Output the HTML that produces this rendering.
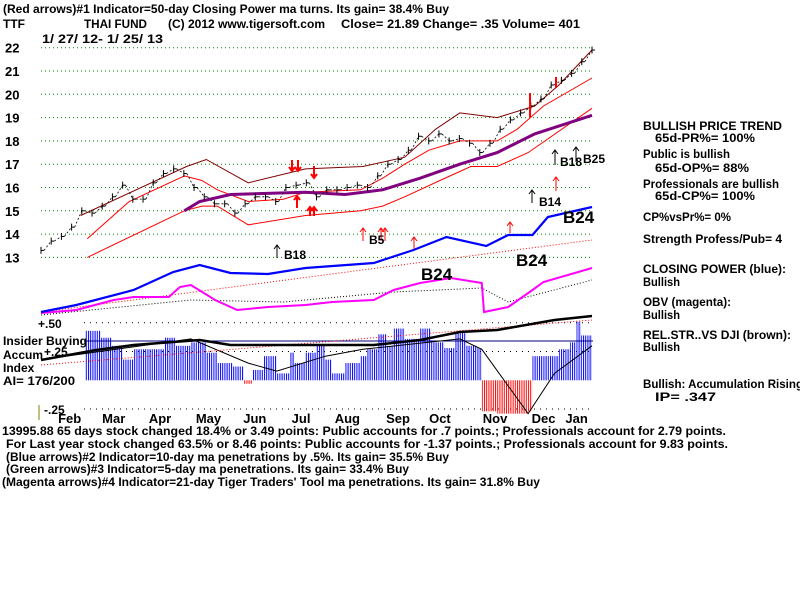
<!DOCTYPE html>
<html><head><meta charset="utf-8"><style>
html,body{margin:0;padding:0;background:#fff}
svg{display:block;font-family:"Liberation Sans",Arial,sans-serif}
text{font-weight:bold}
</style></head><body>
<svg id="c" width="800" height="600" viewBox="0 0 800 600">
<defs>
<pattern id="pb" width="2.2" height="4" patternUnits="userSpaceOnUse"><rect width="1" height="4" fill="#0000ff"/></pattern>
<pattern id="pr" width="2.2" height="4" patternUnits="userSpaceOnUse"><rect width="1" height="4" fill="#ff0000"/></pattern>
</defs>
<g font-size="12" fill="#000">
<text x="3" y="13" textLength="446" lengthAdjust="spacingAndGlyphs">(Red arrows)#1 Indicator=50-day Closing Power ma turns. Its gain= 38.4% Buy</text>
<text x="3" y="28">TTF</text>
<text x="84" y="28" textLength="63" lengthAdjust="spacingAndGlyphs">THAI FUND</text>
<text x="168" y="28" textLength="157" lengthAdjust="spacingAndGlyphs">(C) 2012 www.tigersoft.com</text>
<text x="341" y="28" textLength="239" lengthAdjust="spacingAndGlyphs">Close=  21.89  Change= .35 Volume= 401</text>
<text x="42" y="43" textLength="121" lengthAdjust="spacingAndGlyphs">1/ 27/ 12- 1/ 25/ 13</text>
</g>
<g id="grid"></g>
<g id="marks"></g>
<g font-size="12" fill="#000">
<text x="643" y="130" textLength="139" lengthAdjust="spacingAndGlyphs">BULLISH PRICE TREND</text>
<text x="655" y="142" textLength="100" lengthAdjust="spacingAndGlyphs">65d-PR%= 100%</text>
<text x="643" y="158" textLength="87" lengthAdjust="spacingAndGlyphs">Public is bullish</text>
<text x="655" y="172" textLength="94" lengthAdjust="spacingAndGlyphs">65d-OP%= 88%</text>
<text x="643" y="188" textLength="136" lengthAdjust="spacingAndGlyphs">Professionals are bullish</text>
<text x="655" y="200" textLength="100" lengthAdjust="spacingAndGlyphs">65d-CP%= 100%</text>
<text x="643" y="221" textLength="88" lengthAdjust="spacingAndGlyphs">CP%vsPr%=  0%</text>
<text x="643" y="243" textLength="139" lengthAdjust="spacingAndGlyphs">Strength Profess/Pub= 4</text>
<text x="643" y="273" textLength="143" lengthAdjust="spacingAndGlyphs">CLOSING POWER (blue):</text>
<text x="643" y="286" textLength="37" lengthAdjust="spacingAndGlyphs">Bullish</text>
<text x="643" y="306" textLength="88" lengthAdjust="spacingAndGlyphs">OBV (magenta):</text>
<text x="643" y="319" textLength="37" lengthAdjust="spacingAndGlyphs">Bullish</text>
<text x="643" y="339" textLength="148" lengthAdjust="spacingAndGlyphs">REL.STR..VS DJI (brown):</text>
<text x="643" y="351" textLength="37" lengthAdjust="spacingAndGlyphs">Bullish</text>
<text x="643" y="388" textLength="160" lengthAdjust="spacingAndGlyphs">Bullish: Accumulation Rising</text>
<text x="655" y="401" textLength="61" lengthAdjust="spacingAndGlyphs">IP=  .347</text>
</g>
<g font-size="12" fill="#000">
<text x="3" y="345" textLength="84" lengthAdjust="spacingAndGlyphs">Insider Buying</text>
<text x="3" y="359">Accum</text>
<text x="3" y="372">Index</text>
<text x="3" y="385" textLength="72" lengthAdjust="spacingAndGlyphs">AI= 176/200</text>
<text x="38" y="328">+.50</text>
<text x="44" y="356">+.25</text>
<text x="44" y="414">-.25</text>
<line x1="39" y1="405" x2="39" y2="420" stroke="#808000"/>
</g>
<g font-size="12" fill="#000">
<text x="2" y="435" textLength="724" lengthAdjust="spacingAndGlyphs">13995.88 65 days stock changed  18.4% or  3.49 points:  Public accounts for  .7 points.;  Professionals account for  2.79 points.</text>
<text x="6" y="448" textLength="722" lengthAdjust="spacingAndGlyphs">For Last year stock changed  63.5% or  8.46 points:  Public accounts for -1.37 points.;  Professionals account for  9.83 points.</text>
<text x="6" y="461" textLength="443" lengthAdjust="spacingAndGlyphs">(Blue arrows)#2 Indicator=10-day ma penetrations by .5%. Its gain= 35.5% Buy</text>
<text x="6" y="473" textLength="403" lengthAdjust="spacingAndGlyphs">(Green arrows)#3 Indicator=5-day ma penetrations. Its gain= 33.4% Buy</text>
<text x="2" y="486" textLength="538" lengthAdjust="spacingAndGlyphs">(Magenta arrows)#4 Indicator=21-day Tiger Traders' Tool ma penetrations. Its gain= 31.8% Buy</text>
</g>
</svg>
<script>
const priceTicks=[22,21,20,19,18,17,16,15,14,13];
const closes=[13.3,13.7,13.9,14.3,15.0,14.9,15.2,15.6,16.1,15.5,15.5,16.2,16.6,16.8,16.6,16.0,15.6,15.3,15.3,14.9,15.3,15.6,15.6,15.4,16.0,16.1,16.2,15.6,15.9,15.9,16.0,16.1,16.0,16.5,17.0,17.2,17.6,18.2,18.0,18.3,18.0,18.1,17.9,17.5,17.9,18.5,18.9,19.2,19.5,19.8,20.4,20.6,20.9,21.4,21.9];
const upperDays=[18,66,75,94,120,146,165,179,190,207,224,235,250];
const upperVals=[14.8,16.9,17.2,16.2,16.8,16.9,17.3,18.5,19.2,19.0,19.5,20.4,21.9];
const midDays=[21,40,65,73,80,94,110,120,145,155,165,176,190,207,216,228,250];
const midVals=[13.8,15.4,16.5,16.3,15.9,15.4,15.5,15.8,15.9,16.4,17.0,17.6,18.0,18.0,18.5,19.5,20.7];
const lowDays=[21,65,73,80,94,120,145,155,165,181,195,207,221,250];
const lowVals=[13.0,15.0,15.2,15.2,14.4,14.8,15.0,15.2,15.6,16.3,16.9,16.9,17.5,19.4];
const maDays=[65,72,86,120,138,155,172,190,207,224,250];
const maVals=[15.0,15.4,15.7,15.8,15.7,15.9,16.4,17.0,17.5,18.3,19.1];
const cpDays=[0,16,42,60,72,86,103,120,151,169,184,202,212,223,230,250];
const cpVals=[8,15,30,48,55,47,46,52,57,70,83,74,85,85,103,113];
const obvDays=[0,16,33,42,58,63,68,79,89,103,120,132,151,160,172,186,200,201,212,223,228,250];
const obvVals=[7,10,20,23,23,33,35,20,10,13,15,18,20,30,37,42,37,8,13,30,38,52];
const rsDays=[0,25,42,72,86,120,151,172,190,207,233,250];
const rsVals=[10,20,25,30,25,25,25,30,38,40,50,54];
const aiDays=[20,27,32,37,42,47,53,56,61,68,75,80,87,92,96,101,107,113,115,120,125,129,132,138,145,148,153,157,160,165,172,177,183,188,193,198,200,207,214,221,223,230,235,240,243,245,250];
const aiVals=[0.43,0.37,0.30,0.18,0.27,0.27,0.27,0.37,0.30,0.33,0.24,0.15,0.12,-0.03,0.09,0.21,0.06,0.24,0.15,0.24,0.30,0.18,0.06,0.15,0.21,0.27,0.40,0.30,0.45,0.36,0.45,0.33,0.28,0.41,0.30,0.28,-0.27,-0.29,-0.29,-0.27,0.21,0.21,0.27,0.33,0.51,0.39,0.33];
const aiMaDays=[0,68,94,107,129,146,190,200,221,233,250];
const aiMaVals=[0.18,0.36,0.15,0.08,0.21,0.27,0.36,0.27,-0.29,0.06,0.30];
const months=["Feb","Mar","Apr","May","Jun","Jul","Aug","Sep","Oct","Nov","Dec","Jan"];
const monthDays=[13,33,54,76,97,118,139,162,181,206,228,243];

const NS="http://www.w3.org/2000/svg";
const X=d=>41+d*(551/250);
const Y=v=>47.7+(22-v)*23.3;
const YC=v=>320-v, YO=v=>320-v, YR=v=>370-v;
const YA=v=>380.3-v*115;
const grid=document.getElementById('grid'), marks=document.getElementById('marks');
function mk(tag,attrs,parent){const e=document.createElementNS(NS,tag);for(const k in attrs)e.setAttribute(k,attrs[k]);(parent||marks).appendChild(e);return e;}
function poly(days,vals,yf,stroke,w,dash,name){
  const pts=days.map((d,i)=>X(d).toFixed(1)+','+yf(vals[i]).toFixed(1)).join(' ');
  const p=mk('polyline',{points:pts,fill:'none',stroke:stroke,'stroke-width':w});
  if(dash)p.setAttribute('stroke-dasharray',dash);
  
  
  return p;
}
priceTicks.forEach(v=>{
  const l=mk('line',{x1:41,x2:592,y1:Y(v),y2:Y(v),stroke:'#008000','stroke-dasharray':'1 3'},grid);
  
  
  const t=mk('text',{x:5,y:Y(v)+5,'font-size':13},grid);
  t.textContent=v;
  
  
});
[0.5,0.25,-0.25].forEach(v=>{
  const l=mk('line',{x1:84,x2:592,y1:YA(v),y2:YA(v),stroke:'#000','stroke-dasharray':'1 5'},grid);
  
  
});
for(let i=0;i+1 < aiDays.length;i++){
  const v=aiVals[i],x0=X(aiDays[i]),x1=X(aiDays[i+1]);
  const y=YA(v),y0=YA(0);
  const r=mk('rect',{x:x0,y:Math.min(y,y0),width:x1-x0,height:Math.abs(y-y0),fill:v>=0?'url(#pb)':'url(#pr)'});
  
  
}
const hl=mk('line',{x1:84,x2:593,y1:341,y2:341,stroke:'#000080','stroke-width':1});


poly(aiMaDays,aiMaVals,YA,'#000',1,null,'ai-ma-line');
poly([0,250],[8,80],YC,'#ff0000',1,'1 2','cp-ma-line');
poly([0,68,110,160,200,212,250],[5,20,18,28,32,18,40],YO,'#000',1,'1 2','obv-ma-line');
poly([0,250],[5,50],YR,'#ff0000',1,'1 2','rs-ma-line');
poly(obvDays,obvVals,YO,'#ff00ff',2,null,'obv-line');
poly(cpDays,cpVals,YC,'#0000ff',2.2,null,'closing-power-line');
poly(rsDays,rsVals,YR,'#000',2.5,null,'relative-strength-line');
poly(upperDays,upperVals,Y,'#800000',1,null,'upper-band');
poly(midDays,midVals,Y,'#ff0000',1,null,'middle-band');
poly(lowDays,lowVals,Y,'#ff0000',1,null,'lower-band');
poly(maDays,maVals,Y,'#800080',3,null,'moving-average');
closes.forEach((c,i)=>{
  const d=i*250/(closes.length-1),x=X(d);
  const b=mk('line',{x1:x,x2:x,y1:Y(c+0.15),y2:Y(c-0.15),stroke:'#000','stroke-width':1});
  
  
  const t=mk('line',{x1:x,x2:x+3,y1:Y(c),y2:Y(c),stroke:'#000'});
  
  
  if(i+1 < closes.length){
    const cn=closes[i+1],xn=X((i+1)*250/(closes.length-1));
    const s=mk('polyline',{points:(x+3)+','+Y(c)+' '+xn+','+Y(cn),fill:'none',stroke:'#000','stroke-width':0.8,'stroke-dasharray':'2 2'});
    
    
  }
});
months.forEach((m,i)=>{
  const t=mk('text',{x:X(monthDays[i]),y:423,'font-size':13,'text-anchor':'middle'});
  t.textContent=m;
  
  
});
function arrow(x,y1,y2,color,w,name){
  const up=y2 < y1;
  const g=mk('g',{});
  
  
  mk('line',{x1:x,x2:x,y1:y1,y2:y2,stroke:color,'stroke-width':w},g);
  const o=up?4:-4;
  mk('polyline',{points:(x-3)+','+(y2+o)+' '+x+','+y2+' '+(x+3)+','+(y2+o),fill:'none',stroke:color,'stroke-width':w},g);
}
function label(x,y,s,size,name){const t=mk('text',{x:x,y:y,'font-size':size});t.textContent=s;}
arrow(277,258,245,'#000',1,'b18-arrow');label(284,259,'B18',12,'b18-label');
arrow(363,241,228,'#ff0000',1,'red-arrow');arrow(381,241,228,'#ff0000',1,'red-arrow');arrow(385,241,228,'#ff0000',1,'red-arrow');
label(369,244,'B5',12,'b5-label');
arrow(414,249,237,'#ff0000',1,'red-arrow');arrow(510,233,222,'#ff0000',1,'red-arrow');
arrow(532,203,190,'#000',1,'b14-arrow');label(539,206,'B14',12,'b14-label');
arrow(556,191,177,'#ff0000',1,'red-arrow');
arrow(555,165,150,'#000',1,'b18-arrow-2');label(560,166,'B18',12,'b18-label-2');
arrow(576,162,147,'#000',1,'b25-arrow');label(583,163,'B25',12,'b25-label');
arrow(297,208,196,'#ff0000',2,'red-arrow-thick');arrow(310,216,207,'#ff0000',2,'red-arrow-thick');arrow(314,216,207,'#ff0000',2,'red-arrow-thick');
arrow(292,160,171,'#ff0000',2,'red-down-arrow');arrow(298,160,171,'#ff0000',2,'red-down-arrow');arrow(314,166,178,'#ff0000',2,'red-down-arrow');
mk('line',{x1:530,x2:530,y1:93,y2:117,stroke:'#ff0000','stroke-width':2});
mk('line',{x1:556,x2:556,y1:77,y2:88,stroke:'#ff0000','stroke-width':2});
label(563,223,'B24',17,'b24-label-cp');label(516,266,'B24',17,'b24-label-2');label(421,280,'B24',17,'b24-label-obv');
</script>
</body></html>
